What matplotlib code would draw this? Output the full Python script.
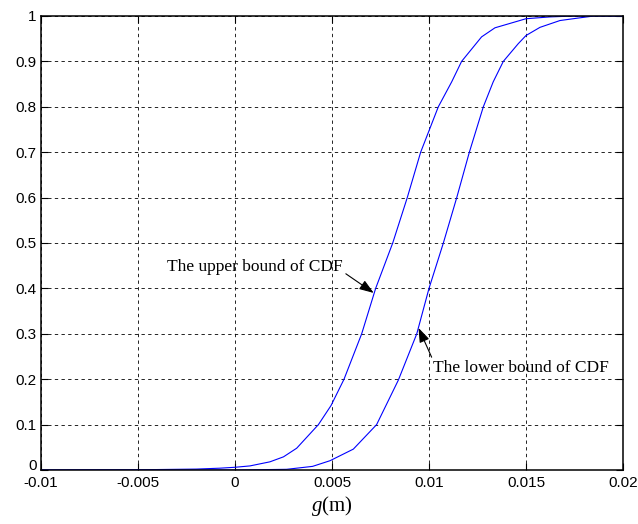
import matplotlib
matplotlib.use("Agg")
import matplotlib.pyplot as plt
import matplotlib.transforms as mtransforms

plt.rcParams["mathtext.fontset"] = "custom"
plt.rcParams["mathtext.it"] = "Liberation Serif:italic"
plt.rcParams["mathtext.rm"] = "Liberation Serif"

# Data
upper_x = [-0.01, -0.005, -0.002, -0.00078, 0.0, 0.00077, 0.0018, 0.0025, 0.00318,
           0.0043, 0.00495, 0.00562, 0.00653, 0.00725, 0.00813, 0.00888, 0.00957,
           0.01048, 0.01117, 0.01168, 0.01271, 0.0134, 0.015, 0.01624, 0.0175, 0.02]
upper_y = [0.0, 0.0005, 0.002, 0.004, 0.006, 0.009, 0.018, 0.029, 0.048,
           0.10, 0.142, 0.20, 0.30, 0.40, 0.50, 0.60, 0.70,
           0.80, 0.855, 0.90, 0.954, 0.974, 0.994, 0.998, 1.0, 1.0]

lower_x = [-0.01, 0.0, 0.00266, 0.004, 0.0049, 0.0061, 0.0073, 0.00842, 0.00937,
           0.0100, 0.01074, 0.01143, 0.01208, 0.0128, 0.01331, 0.01383, 0.0146,
           0.015, 0.01572, 0.01675, 0.01778, 0.0185, 0.02]
lower_y = [0.0, 0.0, 0.0015, 0.008, 0.0205, 0.046, 0.10, 0.198, 0.30,
           0.40, 0.50, 0.60, 0.70, 0.80, 0.855, 0.90, 0.939,
           0.957, 0.975, 0.990, 0.996, 1.0, 1.0]

xticks = [-0.01, -0.005, 0, 0.005, 0.01, 0.015, 0.02]
xtick_labels = ["-0.01", "-0.005", "0", "0.005", "0.01", "0.015", "0.02"]
yticks = [0, 0.1, 0.2, 0.3, 0.4, 0.5, 0.6, 0.7, 0.8, 0.9, 1.0]
ytick_labels = ["0", "0.1", "0.2", "0.3", "0.4", "0.5", "0.6", "0.7", "0.8", "0.9", "1"]

upper_label = "The upper bound of CDF"
lower_label = "The lower bound of CDF"

fig = plt.figure(figsize=(6.38, 5.24), dpi=100)
ax = fig.add_axes([41/638, 1-470/524, (623-41)/638, (470-16)/524])

for xs, ys in ((upper_x, upper_y), (lower_x, lower_y)):
    ax.plot(xs, ys, color="#0000ff", lw=0.8, solid_joinstyle="round")

ax.set_xlim(-0.01, 0.02)
ax.set_ylim(0, 1)
ax.set_xticks(xticks)
ax.set_xticklabels(xtick_labels, family="Liberation Sans", fontsize=11)
ax.set_yticks(yticks)
ax.set_yticklabels(ytick_labels, family="Liberation Sans", fontsize=11)
ax.tick_params(direction="in", length=5, width=0.8, top=True, right=True)
ax.tick_params(axis="x", pad=4)
ax.tick_params(axis="y", pad=3)

# raise the bottom "0" label slightly, as in the reference
lbl0 = ax.get_yticklabels()[0]
lbl0.set_transform(lbl0.get_transform() +
                   mtransforms.ScaledTranslation(0, 4/72, fig.dpi_scale_trans))

ax.grid(True, color="k", linestyle=(0, (4, 4)), linewidth=0.6)
for s in ax.spines.values():
    s.set_linewidth(1.1)
    s.set_color("k")

ax.set_xlabel("$g$(m)", family="Liberation Serif", fontsize=15, labelpad=3)

arrow = dict(arrowstyle="-|>,head_length=0.7,head_width=0.25", color="k", lw=0.8,
             shrinkA=0, shrinkB=0)
ax.annotate(upper_label, xy=(0.00715, 0.39), xytext=(0.00557, 0.447),
            ha="right", va="center", family="Liberation Serif", fontsize=12.5,
            arrowprops=dict(arrow, relpos=(1.0, 0.2)))
ax.annotate(lower_label, xy=(0.00946, 0.313), xytext=(0.0102, 0.2247),
            ha="left", va="center", family="Liberation Serif", fontsize=12.5,
            arrowprops=dict(arrow, relpos=(0.0, 1.0)))

fig.savefig("out.png", dpi=100)
